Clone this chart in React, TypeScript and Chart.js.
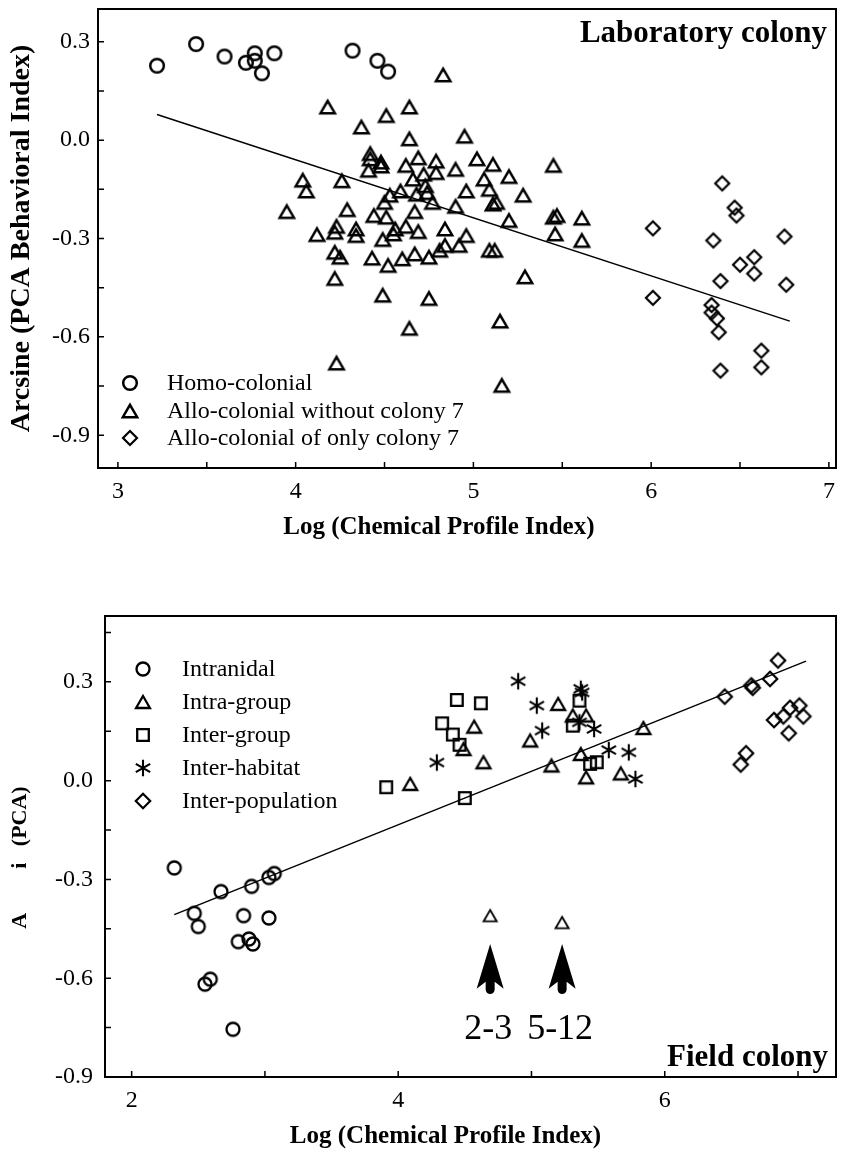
import React, { useEffect, useRef } from 'react';
import { Chart, registerables } from 'chart.js';

Chart.register(...registerables);

type Pt = [number, number];

const SERIF = '"Liberation Serif", "Times New Roman", Times, serif';

// ---------------- Laboratory colony (top chart) ----------------
const labHomoColonial: Pt[] = [
  [3.22, 0.227], [3.44, 0.293], [3.6, 0.255], [3.72, 0.236], [3.77, 0.265], [3.77, 0.242],
  [3.81, 0.204], [3.88, 0.265], [4.32, 0.273], [4.46, 0.242], [4.52, 0.209],
];

const labAlloWithout7: Pt[] = [
  [4.83, 0.199], [4.18, 0.101], [4.64, 0.101], [4.51, 0.075], [4.37, 0.04], [4.64, 0.004],
  [4.95, 0.012], [4.42, -0.041], [4.42, -0.057], [4.48, -0.067], [4.48, -0.079], [4.41, -0.092],
  [4.62, -0.077], [4.69, -0.054], [4.79, -0.064], [4.9, -0.089], [4.72, -0.104], [4.79, -0.099],
  [4.66, -0.119], [4.04, -0.122], [4.06, -0.155], [4.26, -0.124], [4.73, -0.139], [4.59, -0.155],
  [4.53, -0.168], [4.96, -0.155], [4.74, -0.16], [4.5, -0.19], [4.68, -0.165], [4.77, -0.19],
  [3.95, -0.218], [4.29, -0.212], [4.9, -0.202], [4.44, -0.23], [4.51, -0.235], [4.67, -0.218],
  [4.23, -0.263], [4.34, -0.271], [4.12, -0.288], [4.56, -0.271], [4.62, -0.263], [4.69, -0.279],
  [4.84, -0.271], [4.96, -0.291], [4.49, -0.303], [4.34, -0.291], [4.84, -0.321], [4.92, -0.321],
  [4.22, -0.281], [4.55, -0.286], [4.22, -0.342], [4.25, -0.357], [4.43, -0.36], [4.52, -0.382],
  [4.6, -0.362], [4.67, -0.347], [4.75, -0.357], [4.81, -0.336], [4.22, -0.422], [4.49, -0.473],
  [4.75, -0.483], [4.64, -0.574], [4.23, -0.68], [5.02, -0.057], [5.11, -0.074], [5.2, -0.111],
  [5.06, -0.119], [5.09, -0.15], [5.28, -0.168], [5.45, -0.077], [5.11, -0.195], [5.13, -0.19],
  [5.2, -0.245], [5.45, -0.235], [5.47, -0.23], [5.61, -0.238], [5.46, -0.286], [5.61, -0.306],
  [5.09, -0.336], [5.12, -0.336], [5.29, -0.417], [5.15, -0.552], [5.16, -0.748],
];

const labAlloOnly7: Pt[] = [
  [6.4, -0.132], [6.47, -0.206], [6.48, -0.23], [6.01, -0.269], [6.35, -0.306], [6.75, -0.294],
  [6.58, -0.357], [6.5, -0.38], [6.58, -0.407], [6.39, -0.43], [6.76, -0.441], [6.01, -0.481],
  [6.34, -0.503], [6.34, -0.526], [6.37, -0.544], [6.38, -0.586], [6.62, -0.642], [6.62, -0.693],
  [6.39, -0.703],
];

const labFit: Pt[] = [[3.22, 0.078], [6.78, -0.552]];

const labLegendLabels = ['Homo-colonial', 'Allo-colonial without colony 7', 'Allo-colonial of only colony 7'];
const labXTicks = [3, 3.5, 4, 4.5, 5, 5.5, 6, 6.5, 7];
const labXTickLabels = [3, 4, 5, 6, 7];
const labYTicks = [-0.9, -0.75, -0.6, -0.45, -0.3, -0.15, 0, 0.15, 0.3];
const labYTickLabels = [-0.9, -0.6, -0.3, 0, 0.3];

// ---------------- Field colony (bottom chart) ----------------
const fieldIntranidal: Pt[] = [
  [2.32, -0.265], [2.67, -0.337], [2.9, -0.321], [3.03, -0.294], [3.07, -0.282], [2.47, -0.403],
  [2.5, -0.443], [2.84, -0.41], [3.03, -0.417], [2.8, -0.489], [2.88, -0.481], [2.91, -0.496],
  [2.55, -0.618], [2.59, -0.603], [2.76, -0.755],
];

const fieldIntraGroup: Pt[] = [
  [4.09, -0.01], [4.49, 0.096], [4.57, 0.164], [4.64, 0.056], [4.99, 0.122], [5.2, 0.233],
  [5.31, 0.198], [5.41, 0.198], [5.15, 0.046], [5.37, 0.081], [5.41, 0.01], [5.67, 0.022],
  [5.84, 0.16],
];

const fieldIntraGroupNoted: Pt[] = [[4.69, -0.41], [5.23, -0.431]];
const fieldNotedLabels = ['2-3', '5-12'];

const fieldInterGroup: Pt[] = [
  [4.44, 0.245], [4.62, 0.235], [4.33, 0.174], [4.41, 0.14], [4.46, 0.109], [3.91, -0.02],
  [4.5, -0.053], [5.36, 0.243], [5.31, 0.167], [5.44, 0.051], [5.49, 0.056],
];

const fieldInterHabitat: Pt[] = [
  [4.29, 0.055], [4.9, 0.302], [5.04, 0.228], [5.08, 0.152], [5.37, 0.279], [5.38, 0.268],
  [5.36, 0.177], [5.47, 0.157], [5.58, 0.093], [5.73, 0.086], [5.78, 0.005],
];

const fieldInterPopulation: Pt[] = [
  [6.85, 0.365], [6.79, 0.309], [6.65, 0.289], [6.66, 0.282], [6.45, 0.255], [7.01, 0.228],
  [6.94, 0.221], [7.04, 0.195], [6.89, 0.195], [6.82, 0.184], [6.93, 0.144], [6.61, 0.083],
  [6.57, 0.049],
];

const fieldFit: Pt[] = [[2.32, -0.407], [7.06, 0.363]];

const fieldLegendLabels = ['Intranidal', 'Intra-group', 'Inter-group', 'Inter-habitat', 'Inter-population'];
const fieldXTicks = [2, 3, 4, 5, 6, 7];
const fieldXTickLabels = [2, 4, 6];
const fieldYTicks = [-0.9, -0.75, -0.6, -0.45, -0.3, -0.15, 0, 0.15, 0.3, 0.45];
const fieldYTickLabels = [-0.9, -0.6, -0.3, 0, 0.3];

// ---------------- helpers ----------------
const toXY = (arr: Pt[]) => arr.map(([x, y]) => ({ x, y }));
const isIn = (v: number, list: number[]) => list.some((l) => Math.abs(l - v) < 1e-6);

function makeMarker(shape: string, r: number, lw: number): HTMLCanvasElement {
  const pad = Math.ceil(lw) + 1;
  let size = Math.ceil(2 * r + 2 * pad);
  if (size % 2) size += 1;
  const c = document.createElement('canvas');
  c.width = size;
  c.height = size;
  const g = c.getContext('2d')!;
  const m = size / 2;
  g.strokeStyle = '#000';
  g.lineWidth = lw;
  g.lineJoin = 'miter';
  g.beginPath();
  if (shape === 'circle') {
    g.arc(m, m, r, 0, Math.PI * 2);
  } else if (shape === 'triangle') {
    const cy = m + r * 0.25;
    for (let i = 0; i < 3; i++) {
      const a = -Math.PI / 2 + (i * 2 * Math.PI) / 3;
      const px = m + r * Math.cos(a);
      const py = cy + r * Math.sin(a);
      if (i === 0) g.moveTo(px, py);
      else g.lineTo(px, py);
    }
    g.closePath();
  } else if (shape === 'diamond') {
    g.moveTo(m, m - r);
    g.lineTo(m + r, m);
    g.lineTo(m, m + r);
    g.lineTo(m - r, m);
    g.closePath();
  } else if (shape === 'square') {
    g.rect(m - r, m - r, 2 * r, 2 * r);
  } else if (shape === 'asterisk') {
    for (const deg of [90, 30, 150]) {
      const a = (deg * Math.PI) / 180;
      g.moveTo(m - r * Math.cos(a), m - r * Math.sin(a));
      g.lineTo(m + r * Math.cos(a), m + r * Math.sin(a));
    }
  }
  g.stroke();
  return c;
}

type LegendSpec = {
  items: { marker: HTMLCanvasElement; label: string }[];
  symbolDx: number;
  textDx: number;
  rowY: (area: any, i: number) => number;
};

function framePlugin(legend: LegendSpec, extra: (chart: any) => void) {
  return {
    id: 'frameDecor',
    afterDraw(chart: any) {
      const { ctx, chartArea: a, scales } = chart;
      ctx.save();
      // frame
      ctx.strokeStyle = '#000';
      ctx.lineWidth = 2;
      ctx.strokeRect(a.left, a.top, a.right - a.left, a.bottom - a.top);
      // inward ticks
      ctx.lineWidth = 1.5;
      ctx.beginPath();
      scales.x.ticks.forEach((t: any) => {
        const px = scales.x.getPixelForValue(t.value);
        ctx.moveTo(px, a.bottom);
        ctx.lineTo(px, a.bottom - 6);
      });
      scales.y.ticks.forEach((t: any) => {
        const py = scales.y.getPixelForValue(t.value);
        ctx.moveTo(a.left, py);
        ctx.lineTo(a.left + 6, py);
      });
      ctx.stroke();
      // legend
      ctx.fillStyle = '#000';
      ctx.font = `24px ${SERIF}`;
      ctx.textAlign = 'left';
      ctx.textBaseline = 'middle';
      legend.items.forEach((it, i) => {
        const y = legend.rowY(a, i);
        const sx = a.left + legend.symbolDx;
        ctx.drawImage(it.marker, Math.round(sx - it.marker.width / 2), Math.round(y - it.marker.height / 2));
        ctx.fillText(it.label, a.left + legend.textDx, y + 1);
      });
      extra(chart);
      ctx.restore();
    },
  };
}

function drawArrow(ctx: CanvasRenderingContext2D, x: number, tipY: number, baseY: number, endY: number) {
  const hw = 13.5;
  const sw = 4.5;
  ctx.beginPath();
  ctx.moveTo(x, tipY);
  ctx.lineTo(x + hw, baseY);
  ctx.lineTo(x + sw, baseY - 7);
  ctx.lineTo(x + sw, endY - sw);
  ctx.arc(x, endY - sw, sw, 0, Math.PI);
  ctx.lineTo(x - sw, baseY - 7);
  ctx.lineTo(x - hw, baseY);
  ctx.closePath();
  ctx.fill();
}

function scales(cfg: {
  xMin: number; xMax: number; yMin: number; yMax: number;
  xTicks: number[]; xLabels: number[]; yTicks: number[]; yLabels: number[];
  yWidth: number; xHeight: number; xTitle: string; yTitle: string; yTitleSize: number;
  yTitlePad: number; xTitlePad: number; yTickPad: number;
}) {
  return {
    x: {
      type: 'linear',
      min: cfg.xMin,
      max: cfg.xMax,
      grid: { display: false, drawTicks: false },
      border: { display: false },
      afterBuildTicks: (s: any) => {
        s.ticks = cfg.xTicks.map((v) => ({ value: v }));
      },
      afterFit: (s: any) => {
        s.height = cfg.xHeight;
        s.paddingLeft = 0;
        s.paddingRight = 0;
      },
      ticks: {
        autoSkip: false,
        maxRotation: 0,
        minRotation: 0,
        padding: 9,
        color: '#000',
        font: { family: SERIF, size: 24 },
        callback: (v: any) => (isIn(Number(v), cfg.xLabels) ? String(Math.round(Number(v))) : ''),
      },
      title: {
        display: true,
        text: cfg.xTitle,
        color: '#000',
        font: { family: SERIF, size: 25, weight: 'bold' },
        padding: { top: 0, bottom: cfg.xTitlePad },
      },
    },
    y: {
      type: 'linear',
      min: cfg.yMin,
      max: cfg.yMax,
      grid: { display: false, drawTicks: false },
      border: { display: false },
      afterBuildTicks: (s: any) => {
        s.ticks = cfg.yTicks.map((v) => ({ value: v }));
      },
      afterFit: (s: any) => {
        s.width = cfg.yWidth;
        s.paddingTop = 0;
        s.paddingBottom = 0;
      },
      ticks: {
        autoSkip: false,
        padding: cfg.yTickPad,
        color: '#000',
        font: { family: SERIF, size: 24 },
        callback: (v: any) => (isIn(Number(v), cfg.yLabels) ? (Math.abs(Number(v)) < 1e-9 ? '0.0' : Number(v).toFixed(1)) : ''),
      },
      title: {
        display: true,
        text: cfg.yTitle,
        color: '#000',
        font: { family: SERIF, size: cfg.yTitleSize, weight: 'bold' },
        padding: { top: cfg.yTitlePad, bottom: 0 },
      },
    },
  };
}

export default function App() {
  const topRef = useRef<HTMLCanvasElement>(null);
  const botRef = useRef<HTMLCanvasElement>(null);

  useEffect(() => {
    const circleL = makeMarker('circle', 6.8, 2.5);
    const triL = makeMarker('triangle', 8.3, 2.5);
    const diaL = makeMarker('diamond', 7, 2.2);

    const circleF = makeMarker('circle', 6.5, 2.3);
    const triF = makeMarker('triangle', 8, 2.3);
    const triNoted = makeMarker('triangle', 7.6, 1.8);
    const sqF = makeMarker('square', 5.8, 2.3);
    const astF = makeMarker('asterisk', 8.3, 2.1);
    const diaF = makeMarker('diamond', 7.2, 2.2);

    const fitStyle = {
      showLine: true,
      pointRadius: 0,
      borderColor: '#000',
      borderWidth: 1.5,
      fill: false,
    };

    const top = new Chart(topRef.current!, {
      type: 'scatter',
      data: {
        datasets: [
          { label: labLegendLabels[0], data: toXY(labHomoColonial), pointStyle: circleL, pointRadius: 8 },
          { label: labLegendLabels[1], data: toXY(labAlloWithout7), pointStyle: triL, pointRadius: 8 },
          { label: labLegendLabels[2], data: toXY(labAlloOnly7), pointStyle: diaL, pointRadius: 8 },
          { label: 'Regression', data: toXY(labFit), ...fitStyle },
        ],
      } as any,
      options: {
        animation: false,
        responsive: false,
        devicePixelRatio: 1,
        events: [],
        layout: { padding: { top: 6, right: 8, left: 0, bottom: 0 } },
        plugins: { legend: { display: false }, tooltip: { enabled: false } },
        scales: scales({
          xMin: 2.888, xMax: 7.04, yMin: -1.0, yMax: 0.4,
          xTicks: labXTicks, xLabels: labXTickLabels, yTicks: labYTicks, yLabels: labYTickLabels,
          yWidth: 98, xHeight: 92,
          xTitle: 'Log (Chemical Profile Index)' + ' '.repeat(9),
          yTitle: 'Arcsine (PCA Behavioral Index)', yTitleSize: 28, yTitlePad: 5, xTitlePad: 17, yTickPad: 8,
        }),
      } as any,
      plugins: [
        framePlugin(
          {
            items: [
              { marker: circleL, label: labLegendLabels[0] },
              { marker: triL, label: labLegendLabels[1] },
              { marker: diaL, label: labLegendLabels[2] },
            ],
            symbolDx: 32,
            textDx: 69,
            rowY: (a, i) => a.bottom - 85 + i * 27.5,
          },
          (chart) => {
            const { ctx, chartArea: a } = chart;
            ctx.font = `bold 31px ${SERIF}`;
            ctx.textAlign = 'right';
            ctx.textBaseline = 'alphabetic';
            ctx.fillText('Laboratory colony', a.right - 9, a.top + 33);
          }
        ),
      ] as any,
    });

    const bottom = new Chart(botRef.current!, {
      type: 'scatter',
      data: {
        datasets: [
          { label: fieldLegendLabels[0], data: toXY(fieldIntranidal), pointStyle: circleF, pointRadius: 8 },
          { label: fieldLegendLabels[1], data: toXY(fieldIntraGroup), pointStyle: triF, pointRadius: 8 },
          { label: fieldLegendLabels[2], data: toXY(fieldInterGroup), pointStyle: sqF, pointRadius: 8 },
          { label: fieldLegendLabels[3], data: toXY(fieldInterHabitat), pointStyle: astF, pointRadius: 8 },
          { label: fieldLegendLabels[4], data: toXY(fieldInterPopulation), pointStyle: diaF, pointRadius: 8 },
          { label: 'Intra-group (colonies 2-3, 5-12)', data: toXY(fieldIntraGroupNoted), pointStyle: triNoted, pointRadius: 8 },
          { label: 'Regression', data: toXY(fieldFit), ...fitStyle },
        ],
      } as any,
      options: {
        animation: false,
        responsive: false,
        devicePixelRatio: 1,
        events: [],
        layout: { padding: { top: 36, right: 5, left: 0, bottom: 0 } },
        plugins: { legend: { display: false }, tooltip: { enabled: false } },
        scales: scales({
          xMin: 1.8, xMax: 7.285, yMin: -0.9, yMax: 0.5,
          xTicks: fieldXTicks, xLabels: fieldXTickLabels, yTicks: fieldYTicks, yLabels: fieldYTickLabels,
          yWidth: 105, xHeight: 75,
          xTitle: 'Log (Chemical Profile Index)' + ' '.repeat(8),
          yTitle: 'A' + ' '.repeat(8) + 'i' + ' '.repeat(3) + '(PCA)' + ' '.repeat(4),
          yTitleSize: 22, yTitlePad: 7, xTitlePad: 0, yTickPad: 12,
        }),
      } as any,
      plugins: [
        framePlugin(
          {
            items: [
              { marker: circleF, label: fieldLegendLabels[0] },
              { marker: triF, label: fieldLegendLabels[1] },
              { marker: sqF, label: fieldLegendLabels[2] },
              { marker: astF, label: fieldLegendLabels[3] },
              { marker: diaF, label: fieldLegendLabels[4] },
            ],
            symbolDx: 38,
            textDx: 77,
            rowY: (a, i) => a.top + 53 + i * 32.9,
          },
          (chart) => {
            const { ctx, chartArea: a, scales: s } = chart;
            ctx.fillStyle = '#000';
            fieldIntraGroupNoted.forEach(([x], i) => {
              const px = s.x.getPixelForValue(x);
              drawArrow(ctx, px, s.y.getPixelForValue(-0.496), s.y.getPixelForValue(-0.632), s.y.getPixelForValue(-0.648));
              ctx.font = `36px ${SERIF}`;
              ctx.textAlign = 'center';
              ctx.textBaseline = 'middle';
              ctx.fillText(fieldNotedLabels[i], px - 2, s.y.getPixelForValue(-0.755));
            });
            ctx.font = `bold 31px ${SERIF}`;
            ctx.textAlign = 'right';
            ctx.textBaseline = 'alphabetic';
            ctx.fillText('Field colony', a.right - 8, a.bottom - 11);
          }
        ),
      ] as any,
    });

    return () => {
      top.destroy();
      bottom.destroy();
    };
  }, []);

  return (
    <div style={{ position: 'absolute', left: 0, top: 0, width: 845, height: 1152, background: '#fff' }}>
      <canvas ref={topRef} width={845} height={560} style={{ position: 'absolute', left: 0, top: 0 }} />
      <canvas ref={botRef} width={845} height={572} style={{ position: 'absolute', left: 0, top: 580 }} />
    </div>
  );
}
